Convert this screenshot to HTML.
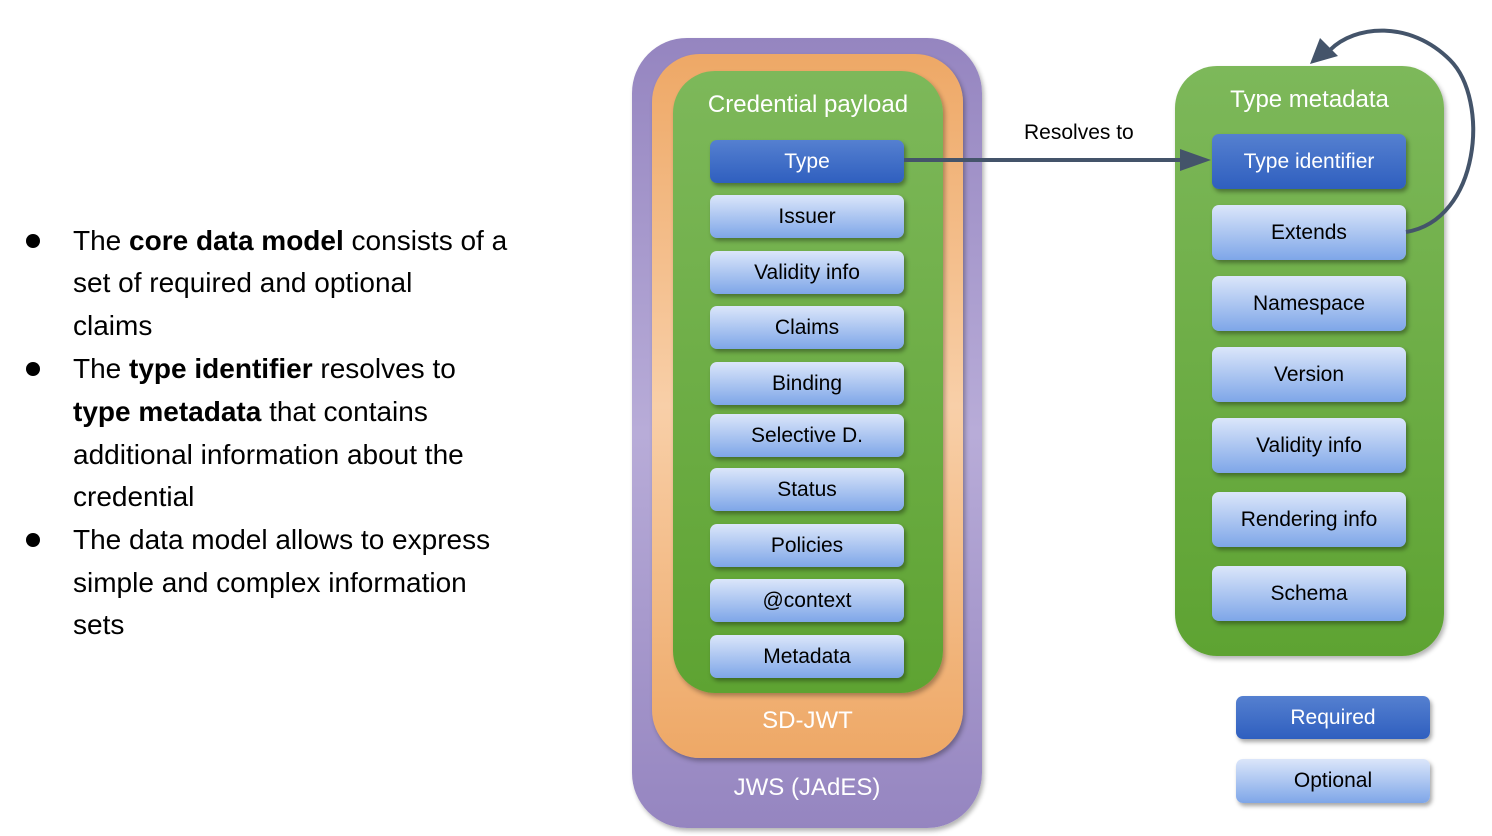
<!DOCTYPE html>
<html><head><meta charset="utf-8"><style>
body{margin:0;width:1492px;height:836px;background:#fff;position:relative;overflow:hidden;font-family:"Liberation Sans",sans-serif}
.l{position:absolute;left:73px;font-size:28px;line-height:34px;white-space:nowrap;color:#000}
.dot{position:absolute;left:26px;width:14px;height:14px;border-radius:50%;background:#000}
.box{position:absolute}
.b{position:absolute;width:194px;border-radius:7px;display:flex;align-items:center;justify-content:center;font-size:21px;box-shadow:2px 3px 4px rgba(0,0,0,.35)}
.req{background:linear-gradient(#5580d0,#2f5fbf);color:#fff}
.opt{background:linear-gradient(#dbe6fa,#7ea6e8);color:#000}
.t{position:absolute;color:#fff;font-size:24px;text-align:center}
</style></head><body>
<div class="dot" style="top:234px"></div>
<div class="dot" style="top:362px"></div>
<div class="dot" style="top:533px"></div>
<div class="l" style="top:224px">The <b>core data model</b> consists of a</div>
<div class="l" style="top:266px">set of required and optional</div>
<div class="l" style="top:309px">claims</div>
<div class="l" style="top:352px">The <b>type identifier</b> resolves to</div>
<div class="l" style="top:395px"><b>type metadata</b> that contains</div>
<div class="l" style="top:438px">additional information about the</div>
<div class="l" style="top:480px">credential</div>
<div class="l" style="top:523px">The data model allows to express</div>
<div class="l" style="top:566px">simple and complex information</div>
<div class="l" style="top:608px">sets</div>

<div class="box" style="left:632px;top:38px;width:350px;height:790px;border-radius:55px;background:linear-gradient(#9585c0,#b8acd8 50%,#9585c0);box-shadow:2px 3px 5px rgba(0,0,0,.3)"></div>
<div class="box" style="left:652px;top:54px;width:311px;height:704px;border-radius:48px;background:linear-gradient(#eea866,#f8cfa8 50%,#eea866);box-shadow:2px 3px 5px rgba(0,0,0,.3)"></div>
<div class="box" style="left:673px;top:71px;width:270px;height:622px;border-radius:42px;background:linear-gradient(#7db85a,#5ea332);box-shadow:2px 3px 5px rgba(0,0,0,.3)"></div>
<div class="t" style="left:673px;top:91px;width:270px">Credential payload</div>
<div class="t" style="left:652px;top:707px;width:311px">SD-JWT</div>
<div class="t" style="left:632px;top:774px;width:350px">JWS (JAdES)</div>

<div class="b req" style="left:710px;top:140px;height:43px">Type</div>
<div class="b opt" style="left:710px;top:195px;height:43px">Issuer</div>
<div class="b opt" style="left:710px;top:251px;height:43px">Validity info</div>
<div class="b opt" style="left:710px;top:306px;height:43px">Claims</div>
<div class="b opt" style="left:710px;top:362px;height:43px">Binding</div>
<div class="b opt" style="left:710px;top:414px;height:43px">Selective D.</div>
<div class="b opt" style="left:710px;top:468px;height:43px">Status</div>
<div class="b opt" style="left:710px;top:524px;height:43px">Policies</div>
<div class="b opt" style="left:710px;top:579px;height:43px">@context</div>
<div class="b opt" style="left:710px;top:635px;height:43px">Metadata</div>

<div class="box" style="left:1175px;top:66px;width:269px;height:590px;border-radius:42px;background:linear-gradient(#7db85a,#5ea332);box-shadow:2px 3px 5px rgba(0,0,0,.3)"></div>
<div class="t" style="left:1175px;top:86px;width:269px">Type metadata</div>
<div class="b req" style="left:1212px;top:134px;height:55px">Type identifier</div>
<div class="b opt" style="left:1212px;top:205px;height:55px">Extends</div>
<div class="b opt" style="left:1212px;top:276px;height:55px">Namespace</div>
<div class="b opt" style="left:1212px;top:347px;height:55px">Version</div>
<div class="b opt" style="left:1212px;top:418px;height:55px">Validity info</div>
<div class="b opt" style="left:1212px;top:492px;height:55px">Rendering info</div>
<div class="b opt" style="left:1212px;top:566px;height:55px">Schema</div>

<div class="b req" style="left:1236px;top:696px;height:43px">Required</div>
<div class="b opt" style="left:1236px;top:759px;height:44px">Optional</div>

<div style="position:absolute;left:1024px;top:121px;font-size:21px;color:#000">Resolves to</div>
<svg width="1492" height="836" style="position:absolute;left:0;top:0">
<line x1="904" y1="160" x2="1185" y2="160" stroke="#44546a" stroke-width="4"/>
<polygon points="1211,160 1180,149 1180,171" fill="#44546a"/>
<path d="M1406,232 C1480,220 1490,100 1450,60 C1410,20 1355,25 1330,50" fill="none" stroke="#44546a" stroke-width="4"/>
<polygon points="1310,64 1320,38 1338,56" fill="#44546a"/>
</svg>
</body></html>
